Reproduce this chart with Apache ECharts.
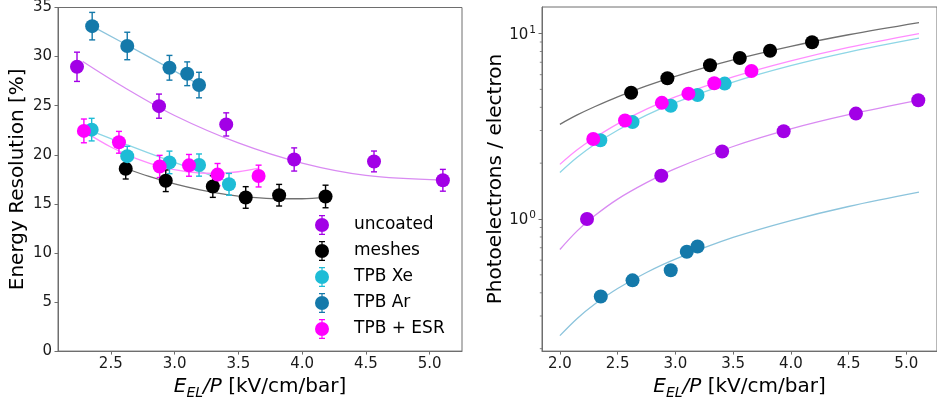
<!DOCTYPE html>
<html>
<head>
<meta charset="utf-8">
<script src="https://cdn.jsdelivr.net/npm/echarts@6/dist/echarts.min.js"></script>
<style>
  html, body { margin: 0; padding: 0; background: #fff; }
  #chart { width: 937px; height: 405px; }
</style>
</head>
<body>
<div id="chart"></div>
<script>
// ---------------- measured data ----------------
// reduced EL field E_EL/P [kV/cm/bar] for each configuration
const uncoatedField = [2.235, 2.878, 3.405, 3.938, 4.564, 5.104];
const meshesField   = [2.617, 2.931, 3.300, 3.558, 3.820, 4.184];
const tpbXeField    = [2.350, 2.629, 2.960, 3.192, 3.427];
const tpbArField    = [2.354, 2.629, 2.960, 3.099, 3.192];
const tpbEsrField   = [2.289, 2.564, 2.883, 3.113, 3.337, 3.659];

// energy resolution [%] and its uncertainty
const uncoatedRes = [28.96, 24.95, 23.09, 19.52, 19.32, 17.40];
const uncoatedErr = [1.49, 1.23, 1.18, 1.18, 1.06, 1.11];
const meshesRes   = [18.58, 17.35, 16.76, 15.65, 15.88, 15.75];
const meshesErr   = [1.05, 1.10, 1.10, 1.10, 1.10, 1.15];
const tpbXeRes    = [22.56, 19.86, 19.22, 18.95, 16.99];
const tpbXeErr    = [1.15, 1.00, 1.15, 1.13, 1.11];
const tpbArRes    = [33.10, 31.08, 28.86, 28.25, 27.10];
const tpbArErr    = [1.40, 1.40, 1.26, 1.21, 1.30];
const tpbEsrRes   = [22.43, 21.27, 18.81, 18.92, 17.98, 17.83];
const tpbEsrErr   = [1.21, 1.11, 1.13, 1.11, 1.13, 1.11];

// photoelectrons per drift electron
const uncoatedPe = [1.00, 1.71, 2.31, 2.97, 3.70, 4.37];
const meshesPe   = [4.79, 5.74, 6.74, 7.38, 8.07, 8.98];
const tpbXePe    = [2.66, 3.33, 4.08, 4.66, 5.37];
const tpbArPe    = [0.382, 0.467, 0.529, 0.666, 0.711];
const tpbEsrPe   = [2.70, 3.40, 4.23, 4.74, 5.39, 6.28];

// fitted trend curves, resolution panel
const uncoatedResFitX = [2.28, 2.6, 3.0, 3.5, 4.0, 4.5, 5.1];
const uncoatedResFitY = [29.5, 26.9, 24.0, 21.2, 19.15, 17.9, 17.43];
const meshesResFitX   = [2.62, 2.8, 3.0, 3.2, 3.4, 3.6, 3.8, 4.0, 4.185];
const meshesResFitY   = [18.6, 17.79, 17.03, 16.43, 15.97, 15.67, 15.52, 15.52, 15.65];
const tpbXeResFitX    = [2.35, 2.63, 2.96, 3.2, 3.43];
const tpbXeResFitY    = [22.4, 21.0, 19.4, 18.3, 17.2];
const tpbArResFitX    = [2.352, 2.78, 3.198];
const tpbArResFitY    = [33.1, 30.1, 27.1];
const tpbEsrResFitX   = [2.29, 2.5, 2.7, 2.9, 3.1, 3.3, 3.5, 3.66];
const tpbEsrResFitY   = [22.38, 20.79, 19.61, 18.77, 18.27, 18.1, 18.27, 18.64];

// fitted trend curves, light-yield panel
const peFitX         = [2.0, 2.15, 2.3, 2.5, 2.75, 3.0, 3.5, 4.0, 4.5, 5.11];
const uncoatedPeFitY = [0.685, 0.863, 1.04, 1.28, 1.57, 1.87, 2.46, 3.06, 3.65, 4.37];
const meshesPeFitY   = [3.24, 3.64, 4.03, 4.56, 5.22, 5.88, 7.20, 8.53, 9.85, 11.46];
const tpbXePeFitY    = [1.78, 2.15, 2.52, 3.01, 3.63, 4.24, 5.47, 6.71, 7.94, 9.44];
const tpbArPeFitY    = [0.235, 0.291, 0.347, 0.422, 0.515, 0.608, 0.795, 0.981, 1.168, 1.395];
const tpbEsrPeFitY   = [1.97, 2.36, 2.74, 3.26, 3.91, 4.55, 5.84, 7.13, 8.43, 10.0];

// axis tick values
const resTicks = [0, 5, 10, 15, 20, 25, 30, 35];
const peMajorTicks = [1, 10];
const peMinorTicks = [0.2, 0.3, 0.4, 0.5, 0.6, 0.7, 0.8, 0.9, 2, 3, 4, 5, 6, 7, 8, 9];

// ---------------- styling ----------------
const FONT = 'DejaVu Sans';
const SPINE = '#6e6e6e';
const TEXT = '#1a1a1a';

const samples = [
  { name: 'uncoated',  field: uncoatedField, res: uncoatedRes, err: uncoatedErr, pe: uncoatedPe,
    rfx: uncoatedResFitX, rfy: uncoatedResFitY, pfy: uncoatedPeFitY, color: '#a200e6', fit: '#d98bf2' },
  { name: 'meshes',    field: meshesField, res: meshesRes, err: meshesErr, pe: meshesPe,
    rfx: meshesResFitX, rfy: meshesResFitY, pfy: meshesPeFitY, color: '#000000', fit: '#707070' },
  { name: 'TPB Xe',    field: tpbXeField, res: tpbXeRes, err: tpbXeErr, pe: tpbXePe,
    rfx: tpbXeResFitX, rfy: tpbXeResFitY, pfy: tpbXePeFitY, color: '#1ebcd6', fit: '#8ed6e6' },
  { name: 'TPB Ar',    field: tpbArField, res: tpbArRes, err: tpbArErr, pe: tpbArPe,
    rfx: tpbArResFitX, rfy: tpbArResFitY, pfy: tpbArPeFitY, color: '#1479aa', fit: '#8cc4dc' },
  { name: 'TPB + ESR', field: tpbEsrField, res: tpbEsrRes, err: tpbEsrErr, pe: tpbEsrPe,
    rfx: tpbEsrResFitX, rfy: tpbEsrResFitY, pfy: tpbEsrPeFitY, color: '#ff00ff', fit: '#ff8cff' }
];

const zip = (a, b) => a.map((v, i) => [v, b[i]]);

const series = [];

// marker series first so that the legend takes their colours
samples.forEach(s => {
  series.push({
    type: 'scatter', name: s.name, xAxisIndex: 0, yAxisIndex: 0,
    data: zip(s.field, s.res), symbol: 'circle', symbolSize: 14,
    itemStyle: { color: s.color, opacity: 1 }, z: 5, silent: true
  });
});
samples.forEach(s => {
  series.push({
    type: 'scatter', name: s.name, xAxisIndex: 1, yAxisIndex: 1,
    data: zip(s.field, s.pe), symbol: 'circle', symbolSize: 14,
    itemStyle: { color: s.color, opacity: 1 }, z: 5, silent: true
  });
});

// error bars with caps
samples.forEach(s => {
  series.push({
    type: 'custom', name: s.name, xAxisIndex: 0, yAxisIndex: 0,
    data: s.field.map((x, i) => [x, s.res[i] - s.err[i], s.res[i] + s.err[i]]),
    itemStyle: { color: s.color },
    renderItem(params, api) {
      const lo = api.coord([api.value(0), api.value(1)]);
      const hi = api.coord([api.value(0), api.value(2)]);
      const w = 3;
      const style = { stroke: s.color, lineWidth: 1.4 };
      return {
        type: 'group', children: [
          { type: 'line', shape: { x1: lo[0], y1: lo[1], x2: hi[0], y2: hi[1] }, style },
          { type: 'line', shape: { x1: lo[0] - w, y1: lo[1], x2: lo[0] + w, y2: lo[1] }, style },
          { type: 'line', shape: { x1: hi[0] - w, y1: hi[1], x2: hi[0] + w, y2: hi[1] }, style }
        ]
      };
    },
    z: 4, silent: true
  });
});

// trend curves
samples.forEach(s => {
  series.push({
    type: 'line', name: s.name, xAxisIndex: 0, yAxisIndex: 0,
    data: zip(s.rfx, s.rfy), showSymbol: false, smooth: 0.35,
    lineStyle: { color: s.fit, width: 1.3 }, itemStyle: { color: s.fit },
    z: 3, silent: true
  });
  series.push({
    type: 'line', name: s.name, xAxisIndex: 1, yAxisIndex: 1,
    data: zip(peFitX, s.pfy), showSymbol: false, smooth: 0.35,
    lineStyle: { color: s.fit, width: 1.3 }, itemStyle: { color: s.fit },
    z: 3, silent: true
  });
});

// log-axis minor ticks
const peXMin = 1.845;
series.push({
  type: 'custom', xAxisIndex: 1, yAxisIndex: 1, clip: false, silent: true,
  data: peMinorTicks.map(v => [peXMin, v]),
  renderItem(params, api) {
    const p = api.coord([api.value(0), api.value(1)]);
    return { type: 'line', shape: { x1: p[0] - 2.2, y1: p[1], x2: p[0], y2: p[1] },
             style: { stroke: SPINE, lineWidth: 0.8 } };
  },
  z: 10
});

const axisTitleRich = {
  i: { fontFamily: FONT, fontStyle: 'italic', fontSize: 20, lineHeight: 26, color: '#000' },
  s: { fontFamily: FONT, fontStyle: 'italic', fontSize: 14, lineHeight: 14, verticalAlign: 'bottom', color: '#000' },
  n: { fontFamily: FONT, fontSize: 20, lineHeight: 26, color: '#000' }
};
const fieldTitle = '{i|E}{s|EL}{i|/P}{n| [kV/cm/bar]}';

const baseLabel = { fontFamily: FONT, fontSize: 15, color: TEXT };

const option = {
  animation: false,
  backgroundColor: '#fff',
  grid: [
    { left: 58, right: 475, top: 7, bottom: 52, show: true, borderColor: SPINE, borderWidth: 1 },
    { left: 542, right: -8, top: 7, bottom: 51, show: true, borderColor: SPINE, borderWidth: 1 }
  ],
  legend: {
    data: samples.map(s => s.name),
    orient: 'vertical', left: 310, top: 210,
    itemWidth: 14, itemHeight: 20, itemGap: 6, selectedMode: false,
    icon: 'path://M0,10A7,7,0,1,1,14,10A7,7,0,1,1,0,10Z M6.4,0H7.6V3H6.4Z M4,0H10V1.2H4Z M6.4,17H7.6V20H6.4Z M4,18.8H10V20H4Z',
    textStyle: { fontFamily: FONT, fontSize: 17, color: '#000', padding: [0, 0, 0, 20] }
  },
  xAxis: [
    {
      type: 'value', gridIndex: 0, min: 2.086, max: 5.254, splitNumber: 6,
      name: fieldTitle, nameLocation: 'middle', nameGap: 20,
      nameTextStyle: { rich: axisTitleRich },
      axisLine: { show: true, lineStyle: { color: SPINE } },
      axisTick: { show: true, length: 3.5, lineStyle: { color: SPINE } },
      axisLabel: Object.assign({ margin: 6, showMinLabel: false, showMaxLabel: false,
        formatter: v => v.toFixed(1) }, baseLabel),
      splitLine: { show: false }
    },
    {
      type: 'value', gridIndex: 1, min: 1.845, max: 5.266, splitNumber: 7,
      name: fieldTitle, nameLocation: 'middle', nameGap: 10,
      nameTextStyle: { rich: axisTitleRich },
      axisLine: { show: true, lineStyle: { color: SPINE } },
      axisTick: { show: true, length: 3.5, lineStyle: { color: SPINE } },
      axisLabel: Object.assign({ margin: 6, showMinLabel: false, showMaxLabel: false,
        formatter: v => v.toFixed(1) }, baseLabel),
      splitLine: { show: false }
    }
  ],
  yAxis: [
    {
      type: 'value', gridIndex: 0, min: resTicks[0], max: resTicks[resTicks.length - 1], interval: 5,
      name: 'Energy Resolution [%]', nameLocation: 'middle', nameGap: 30,
      nameTextStyle: { fontFamily: FONT, fontSize: 20, color: '#000' },
      axisLine: { show: true, lineStyle: { color: SPINE } },
      axisTick: { show: true, length: 3.5, lineStyle: { color: SPINE } },
      axisLabel: Object.assign({ margin: 6 }, baseLabel),
      splitLine: { show: false }
    },
    {
      type: 'log', logBase: 10, gridIndex: 1, min: 0.194, max: 13.9,
      name: 'Photoelectrons / electron', nameLocation: 'middle', nameGap: 34,
      nameTextStyle: { fontFamily: FONT, fontSize: 20, color: '#000' },
      axisLine: { show: true, lineStyle: { color: SPINE } },
      axisTick: { show: true, length: 3.5, lineStyle: { color: SPINE } },
      axisLabel: {
        margin: 6, showMinLabel: false, showMaxLabel: false,
        formatter: v => {
          const k = peMajorTicks.findIndex(t => Math.abs(t - v) / t < 1e-6);
          return k < 0 ? '' : '{b|10}{p|' + Math.round(Math.log10(peMajorTicks[k])) + '}';
        },
        rich: {
          b: { fontFamily: FONT, fontSize: 15, color: TEXT, lineHeight: 18, verticalAlign: 'bottom' },
          p: { fontFamily: FONT, fontSize: 10.5, color: TEXT, lineHeight: 18, verticalAlign: 'top', padding: [0, 0, 0, 1] }
        }
      },
      splitLine: { show: false }
    }
  ],
  series
};

const chart = echarts.init(document.getElementById('chart'), null, { renderer: 'canvas' });
chart.setOption(option);
</script>
</body>
</html>
